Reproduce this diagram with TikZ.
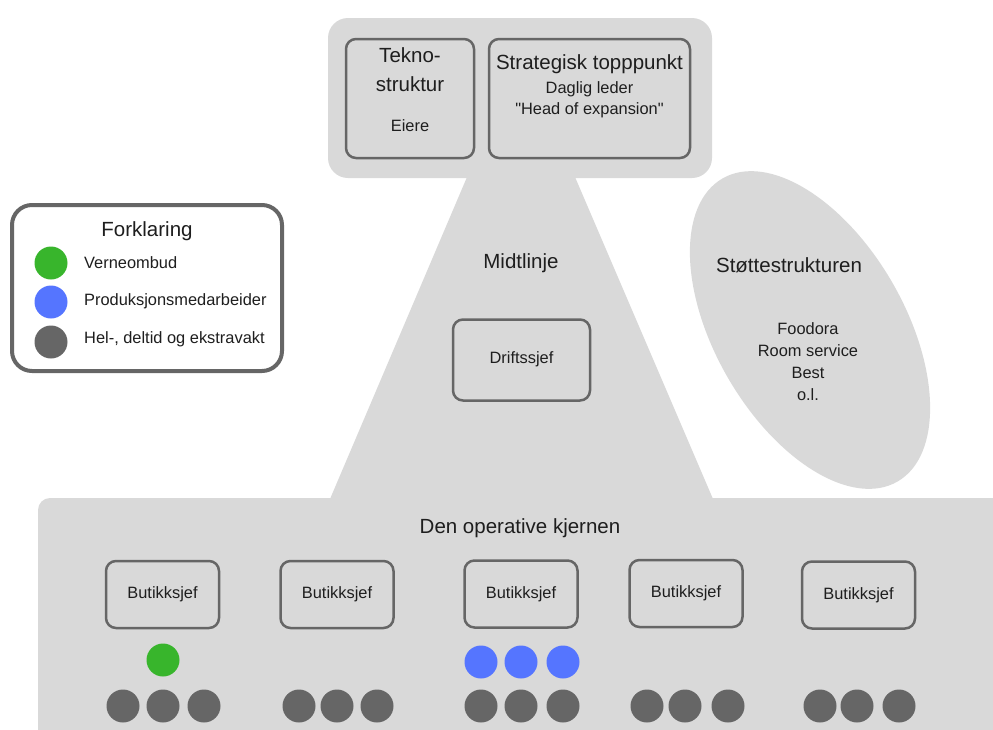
\documentclass[tikz,border=0pt]{standalone}
\usepackage{fontspec}
\setmainfont{Liberation Sans}[Ligatures=TeXOff]
\definecolor{bgc}{HTML}{D9D9D9}
\definecolor{bdr}{HTML}{666666}
\definecolor{txt}{HTML}{1E1E1E}
\definecolor{grn}{HTML}{38B52C}
\definecolor{blu}{HTML}{5575FF}
\begin{document}
\begin{tikzpicture}[x=1pt,y=-1pt,
  big/.style={font=\fontsize{20.5}{24}\selectfont, text=txt, inner sep=0},
  small/.style={font=\fontsize{16.4}{22}\selectfont, text=txt, inner sep=0},
  box/.style={draw=bdr, line width=2.5pt, rounded corners=10pt, fill=bgc},
  dot/.style={circle, minimum size=33pt, inner sep=0, fill=#1}]
\useasboundingbox (0,0) rectangle (993,729);
% shapes
\fill[bgc, rounded corners=12pt] (38,760) -- (38,498) -- (1010,498) -- (1010,760) -- cycle;
\fill[bgc] (470,170) -- (572,170) -- (713,499) -- (330,499) -- cycle;
\fill[bgc, rounded corners=20pt] (328,18) rectangle (712,178);
\fill[bgc, rotate around={-60:(810,330)}] (810,330) ellipse [x radius=175, y radius=95];
% top boxes
\node[box, minimum width=128pt, minimum height=119pt] (tekno) at (410,98.5) {};
\node[box, minimum width=201pt, minimum height=119pt] (strat) at (589.5,98.5) {};
\node[big] (t1) at (410,55) {Tekno-};
\node[big] (t2) at (410,84) {struktur};
\node[small] (t3) at (410,126) {Eiere};
\node[big] (s1) at (589.5,64) {Strategisk topppunkt};
\node[small] (s2) at (589.5,89) {Daglig leder};
\node[small] (s3) at (589.5,110) {"Head of expansion"};
% legend
\node[draw=bdr, line width=4pt, rounded corners=20pt, fill=white, minimum width=270pt, minimum height=166pt] (leg) at (147,288) {};
\node[big] (legt) at (147,231) {Forklaring};
\node[dot=grn] (lg) at (51,263) {};
\node[dot=blu] (lb) at (51,302) {};
\node[dot=bdr] (lk) at (51,342) {};
\node[small, anchor=west] (lgt) at (84,263) {Verneombud};
\node[small, anchor=west] (lbt) at (84,301) {Produksjonsmedarbeider};
\node[small, anchor=west] (lkt) at (84,339) {Hel-, deltid og ekstravakt};
% middle line
\node[big] (mid) at (521,263) {Midtlinje};
\node[box, minimum width=137pt, minimum height=81pt] (drift) at (521.5,360) {};
\node[small] (driftt) at (521.5,359) {Driftssjef};
% support
\node[big] (sup) at (789,265) {Støttestrukturen};
\node[small, align=center] (supt) at (808,362) {Foodora\\Room service\\Best\\o.l.};
% operative core
\node[big] (core) at (520,528) {Den operative kjernen};
\foreach \i/\x/\y in {1/162.5/594.5, 2/337/594.5, 3/521/594, 4/686/593.5, 5/858.5/595}{
  \node[box, minimum width=113pt, minimum height=67pt] (b\i) at (\x,\y) {};
  \node[small] (bt\i) at (\x,\y) {Butikksjef};
}
\node[dot=grn] (g1) at (163,660) {};
\node[dot=blu] (u1) at (481,662) {};
\node[dot=blu] (u2) at (521,662) {};
\node[dot=blu] (u3) at (563,662) {};
\foreach \n/\x in {a/123, b/163, c/204, d/299, e/337, f/377, g/481, h/521, i/563, j/647, k/685, l/728, m/820, n/857, o/899}{
  \node[dot=bdr] (k\n) at (\x,706) {};
}
\end{tikzpicture}
\end{document}
